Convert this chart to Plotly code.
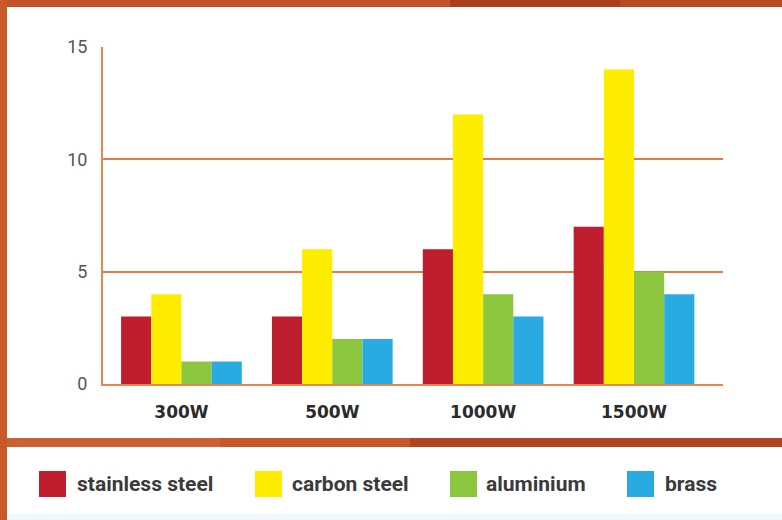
import plotly.graph_objects as go

categories = ["300W", "500W", "1000W", "1500W"]
series_names = ["stainless steel", "carbon steel", "aluminium", "brass"]
stainless_steel = [3, 3, 6, 7]
carbon_steel = [4, 6, 12, 14]
aluminium = [1, 2, 4, 5]
brass = [1, 2, 3, 4]
y_ticks = [0, 5, 10, 15]

colors = ["#BE1E2D", "#FFED00", "#8DC63F", "#29ABE2"]
values = [stainless_steel, carbon_steel, aluminium, brass]

W, H = 782, 520
L, R, T, B = 103, 723, 47, 384


def px_x(px):
    return (px - L) / (R - L)


def px_y(py):
    return (B - py) / (B - T)


fig = go.Figure()
for name, vals, col in zip(series_names, values, colors):
    fig.add_trace(go.Bar(x=categories, y=vals, name=name,
                         marker=dict(color=col, line=dict(width=0)),
                         showlegend=False, hoverinfo="skip"))

shapes = []


def rect(x0, y0, x1, y1, color):
    shapes.append(dict(type="rect", xref="paper", yref="paper",
                       x0=px_x(x0), x1=px_x(x1), y0=px_y(y0), y1=px_y(y1),
                       fillcolor=color, line=dict(width=0), layer="above"))


# frame
rect(0, 514, W, H, "#F1F7FA")
rect(0, 0, W, 7, "#C2532A")
rect(450, 0, 620, 7, "#A8401F")
rect(620, 0, W, 7, "#B64A24")
rect(0, 438, W, 447, "#CB6131")
rect(220, 438, 410, 447, "#C4582B")
rect(410, 438, W, 447, "#B04521")
rect(0, 0, 7, H, "#C85A2A")

# custom legend
sw_x = [39, 255, 450, 627]
tx_x = [75, 290, 484, 663]
annotations = []
for i, (name, col) in enumerate(zip(series_names, colors)):
    shapes.append(dict(type="rect", xref="paper", yref="paper",
                       x0=px_x(sw_x[i]), x1=px_x(sw_x[i] + 27),
                       y0=px_y(497), y1=px_y(471),
                       fillcolor=col, line=dict(width=0)))
    annotations.append(dict(xref="paper", yref="paper", x=px_x(tx_x[i]),
                            y=px_y(484), text=name, showarrow=False,
                            xanchor="left", yanchor="middle",
                            font=dict(family="Roboto", size=21, color="#3a3a3a",
                                      weight="bold")))

fig.update_layout(
    width=W, height=H,
    margin=dict(l=L, r=W - R, t=T, b=H - B),
    paper_bgcolor="white", plot_bgcolor="white",
    barmode="group", bargap=0.2, bargroupgap=0,
    shapes=shapes, annotations=annotations,
    xaxis=dict(type="category", range=[-0.52, 3.59], showgrid=False,
               showline=True, linecolor="#E8874F", linewidth=2,
               ticks="", ticklabelstandoff=12,
               tickfont=dict(family="DejaVu Sans", size=17, color="#2b2b2b",
                             weight="bold")),
    yaxis=dict(range=[0, 15], tickvals=y_ticks, showgrid=True,
               gridcolor="#E47A45", gridwidth=1.5, zeroline=False,
               showline=True, linecolor="#E8874F", linewidth=2,
               ticks="", ticklabelstandoff=10,
               tickfont=dict(family="Roboto", size=18, color="#555555")),
)

fig.write_html("out.html", config={"displayModeBar": False},
               post_script="document.body.style.margin='0';document.body.style.overflow='hidden';")
